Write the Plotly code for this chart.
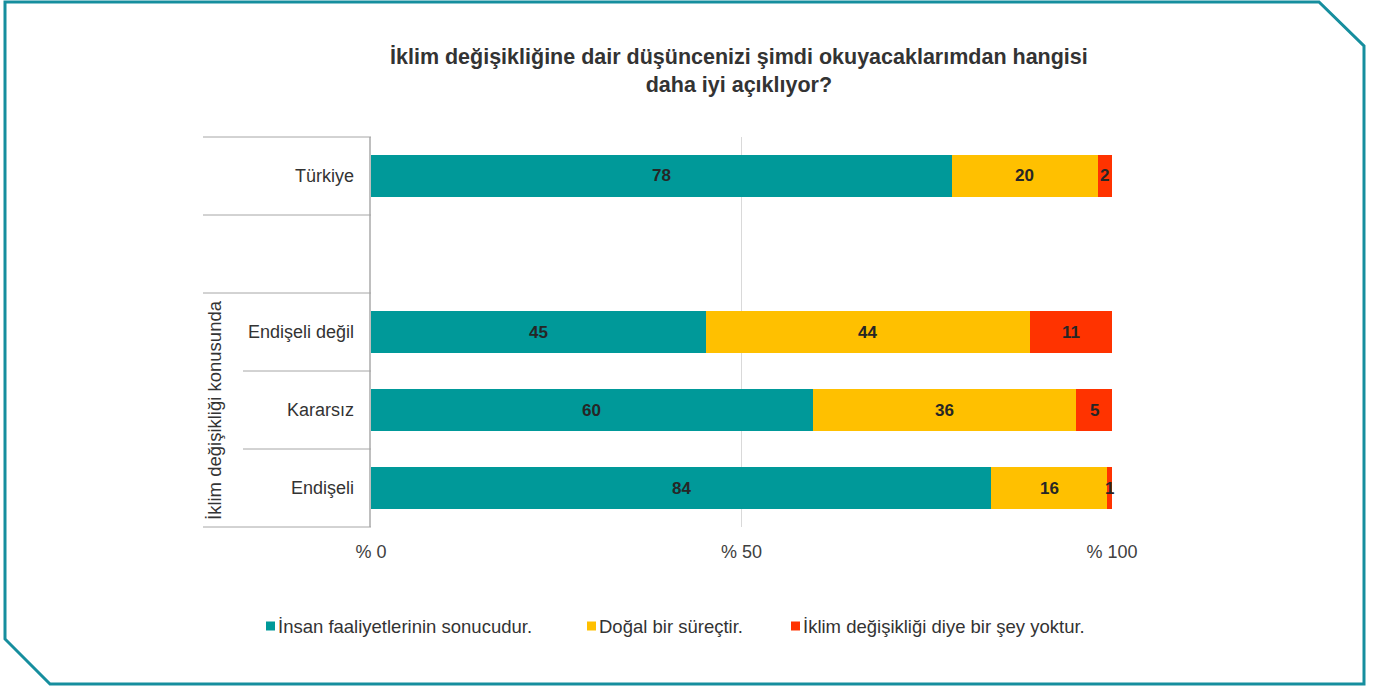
import plotly.graph_objects as go

W, H = 1382, 686

categories = ["Türkiye", "", "Endişeli değil", "Kararsız", "Endişeli"]
y_pos = [4, 3, 2, 1, 0]
series_names = ["İnsan faaliyetlerinin sonucudur.", "Doğal bir süreçtir.", "İklim değişikliği diye bir şey yoktur."]
insan = [78.4, None, 45.2, 59.6, 83.7]
dogal = [19.7, None, 43.7, 35.6, 15.6]
yok = [1.9, None, 11.1, 4.8, 0.7]
colors = ["#009999", "#FFC000", "#FF3300"]
tick_vals = [0, 50, 100]
tick_text = ["% 0", "% 50", "% 100"]
title_text = "<b>İklim değişikliğine dair düşüncenizi şimdi okuyacaklarımdan hangisi<br>daha iyi açıklıyor?</b>"
group_label = "İklim değişikliği konusunda"

FONT = "Liberation Sans, Arial, sans-serif"
TXT = "#333333"

def px(x):
    return x / W

def py(y):
    return 1 - y / H

fig = go.Figure()
all_series = [insan, dogal, yok]
for name, vals, col in zip(series_names, all_series, colors):
    fig.add_trace(go.Bar(
        y=y_pos, x=vals, name=name, orientation="h",
        marker=dict(color=col, line=dict(width=0)),
        width=0.54, hoverinfo="x+name", showlegend=False,
    ))

annotations = []
# data labels, centred in each segment
for i, yp in enumerate(y_pos):
    cum = 0
    for vals in all_series:
        v = vals[i]
        if v is None:
            continue
        annotations.append(dict(
            x=cum + v / 2, y=yp, xref="x", yref="y", text="<b>%d</b>" % round(v),
            showarrow=False, font=dict(family=FONT, size=17, color="#262626"),
            xanchor="center", yanchor="middle",
        ))
        cum += v

# category labels
for c, yp in zip(categories, y_pos):
    if c:
        annotations.append(dict(
            x=px(356), y=yp, xref="paper", yref="y", text=c, xanchor="right", yanchor="middle",
            showarrow=False, font=dict(family=FONT, size=18, color=TXT),
        ))

annotations.append(dict(
    x=px(214), y=py(410), xref="paper", yref="paper", text=group_label, textangle=-90,
    xanchor="center", yanchor="middle",
    showarrow=False, font=dict(family=FONT, size=18.5, color=TXT),
))

annotations.append(dict(
    x=px(739), y=py(71), xref="paper", yref="paper", text=title_text,
    xanchor="center", yanchor="middle",
    showarrow=False, font=dict(family=FONT, size=21.5, color=TXT),
    align="center",
))

shapes = []
line_col = "#a6a6a6"
for (x0, y0) in [(203, 137), (203, 215), (203, 293), (243, 371), (243, 449), (203, 527)]:
    shapes.append(dict(type="line", xref="paper", yref="paper",
                       x0=px(x0), x1=px(371), y0=py(y0), y1=py(y0),
                       line=dict(color=line_col, width=1)))

# manual legend
leg_sq_x = [266, 587, 791]
leg_y = 626
for name, col, sx in zip(series_names, colors, leg_sq_x):
    shapes.append(dict(type="rect", xref="paper", yref="paper",
                       x0=px(sx), x1=px(sx + 9), y0=py(leg_y - 4.5), y1=py(leg_y + 4.5),
                       fillcolor=col, line=dict(width=0)))
    annotations.append(dict(x=px(sx + 10), y=py(leg_y), xref="paper", yref="paper",
                            text=name, xanchor="left", yanchor="middle", showarrow=False,
                            font=dict(family=FONT, size=18.5, color=TXT)))

# frame
pts = [(5, 2), (1319, 2), (1364, 46), (1364, 684), (50, 684), (5, 639)]
path = "M " + " L ".join("%f,%f" % (px(x), py(y)) for x, y in pts) + " Z"
shapes.append(dict(type="path", xref="paper", yref="paper", path=path,
                   line=dict(color="#168E9E", width=3)))

fig.update_layout(
    width=W, height=H,
    margin=dict(l=0, r=0, t=0, b=0, pad=0),
    paper_bgcolor="white", plot_bgcolor="rgba(0,0,0,0)",
    barmode="stack",
    showlegend=False,
    xaxis=dict(domain=[px(371), px(1112)], range=[0, 100], tickvals=tick_vals, ticktext=tick_text,
               showgrid=True, gridcolor="#d9d9d9", gridwidth=1, zeroline=False,
               showline=False, ticks="", ticklabelstandoff=12, automargin=False,
               tickfont=dict(family=FONT, size=18, color="#404040")),
    yaxis=dict(domain=[py(527), py(137)], range=[-0.5, 4.5], showticklabels=False,
               showgrid=False, zeroline=False, showline=True, linecolor="#bfbfbf", linewidth=2,
               ticks="", automargin=False),
    annotations=annotations,
    shapes=shapes,
    font=dict(family=FONT),
)

fig.write_html("out.html", config={"displayModeBar": False},
               post_script="document.body.style.margin='0';document.body.style.overflow='hidden';")
